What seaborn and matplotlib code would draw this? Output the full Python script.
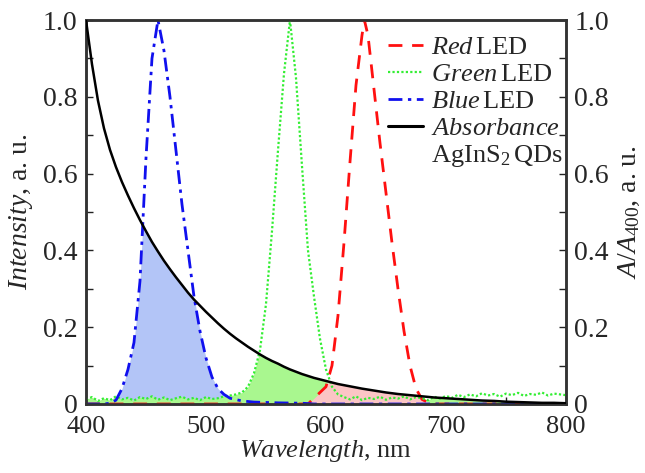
import numpy as np
import pandas as pd
import matplotlib
matplotlib.use('Agg')
import matplotlib.pyplot as plt
import seaborn as sns
from matplotlib.lines import Line2D
from matplotlib.patches import Polygon
from matplotlib.ticker import MultipleLocator

# Blue LED emission
blue_wl = [400, 415, 420, 425, 430, 435, 440, 445, 450, 455, 460, 465, 470, 475, 480,
           485, 490, 495, 500, 505, 510, 515, 520, 530, 540, 560, 580, 590, 800]
blue_int = [0, 0, 0.002, 0.01, 0.04, 0.09, 0.16, 0.32, 0.64, 0.90, 1.00, 0.92, 0.80, 0.66, 0.52,
            0.40, 0.28, 0.19, 0.12, 0.07, 0.04, 0.025, 0.015, 0.008, 0.005, 0.003, 0.002, 0, 0]

# Green LED emission (with noisy baseline)
green_wl = list(range(400, 805, 5))
green_int = [0.012, 0.018, 0.008, 0.015, 0.010, 0.020, 0.012, 0.016, 0.009, 0.018,
             0.013, 0.020, 0.011, 0.017, 0.010, 0.015, 0.019, 0.012, 0.016, 0.010,
             0.018, 0.013, 0.015, 0.020, 0.022, 0.025, 0.030, 0.045, 0.080, 0.140,
             0.260, 0.450, 0.660, 0.860, 1.000, 0.850, 0.620, 0.400, 0.280, 0.170,
             0.090, 0.045, 0.025, 0.018, 0.012, 0.020, 0.010, 0.016, 0.013, 0.019,
             0.011, 0.017, 0.014, 0.020, 0.012, 0.018, 0.015, 0.010, 0.019, 0.014,
             0.021, 0.016, 0.024, 0.018, 0.025, 0.020, 0.028, 0.022, 0.026, 0.019,
             0.027, 0.023, 0.029, 0.021, 0.026, 0.024, 0.030, 0.022, 0.027, 0.025,
             0.023]

# Red LED emission
red_wl = [400, 580, 585, 590, 595, 600, 605, 610, 615, 620, 625, 630, 632, 635, 640,
          645, 650, 655, 660, 665, 670, 675, 680, 685, 690, 800]
red_int = [0, 0, 0.0, 0.015, 0.03, 0.045, 0.10, 0.23, 0.42, 0.63, 0.83, 0.96, 1.0, 0.96, 0.82,
           0.68, 0.55, 0.42, 0.30, 0.19, 0.10, 0.04, 0.012, 0.004, 0, 0]

# Absorbance of AgInS2 QDs, normalized at 400 nm
abs_wl = list(range(400, 600, 5)) + list(range(600, 810, 10))
abs_val = [1.000, 0.885, 0.790, 0.718, 0.662, 0.617, 0.578, 0.543, 0.510, 0.479,
           0.450, 0.422, 0.397, 0.373, 0.351, 0.330, 0.310, 0.290, 0.272, 0.256,
           0.240, 0.225, 0.210, 0.196, 0.183, 0.171, 0.160, 0.149, 0.139, 0.129,
           0.120, 0.112, 0.105, 0.097, 0.090, 0.084, 0.078, 0.073, 0.068, 0.064,
           0.060, 0.052, 0.046, 0.040, 0.035, 0.030, 0.026, 0.023, 0.020, 0.017,
           0.015, 0.013, 0.011, 0.009, 0.008, 0.006, 0.005, 0.004, 0.003, 0.003,
           0.002]

sns.set_theme(style='ticks')
plt.rcParams['font.family'] = ['Liberation Serif', 'DejaVu Serif']
plt.rcParams['mathtext.fontset'] = 'custom'
plt.rcParams['mathtext.rm'] = 'Liberation Serif'
plt.rcParams['mathtext.it'] = 'Liberation Serif:italic'
plt.rcParams['mathtext.bf'] = 'Liberation Serif:bold'

fs = 20
fig = plt.figure(figsize=(6.45, 4.73), dpi=100)
ax = fig.add_axes([0.1333, 0.1459, 0.8775 - 0.1333, 0.9577 - 0.1459])
ax2 = ax.twinx()

# clip region: everything under the absorbance curve
clip = Polygon(list(zip(abs_wl, abs_val)) + [(800, 0), (400, 0)], closed=True,
               transform=ax.transData)

for wl, val, fc in [(blue_wl, blue_int, '#b3c5f7'),
                    (green_wl, green_int, '#a9f78f'),
                    (red_wl, red_int, '#fbc5c5')]:
    f = ax.fill_between(wl, 0, val, color=fc, linewidth=0, zorder=1)
    f.set_clip_path(clip)

sns.lineplot(x=red_wl, y=red_int, ax=ax, color='#ff1010', linestyle=(0, (5, 3.5)),
             linewidth=2.0, zorder=3)
sns.lineplot(x=green_wl, y=green_int, ax=ax, color='#33ee33', linestyle=(0, (1, 1)),
             linewidth=1.6, zorder=3)
sns.lineplot(x=blue_wl, y=blue_int, ax=ax, color='#1010ee', linestyle=(0, (5, 2, 1.2, 2)),
             linewidth=2.0, zorder=3)
sns.lineplot(x=abs_wl, y=abs_val, ax=ax2, color='black', linewidth=1.8, zorder=4)

ticklabels = ['0', '0.2', '0.4', '0.6', '0.8', '1.0']
for a in (ax, ax2):
    a.set_xlim(400, 800)
    a.set_ylim(0, 1.0)
    a.set_yticks([0, 0.2, 0.4, 0.6, 0.8, 1.0])
    a.set_yticklabels(ticklabels)
    a.yaxis.set_minor_locator(MultipleLocator(0.1))
    a.tick_params(which='both', direction='in', length=5, width=1.0, labelsize=fs,
                  color='#222222', pad=6)
    for s in a.spines.values():
        s.set_linewidth(1.8)
        s.set_color('#333333')
ax.xaxis.set_minor_locator(MultipleLocator(50))
ax.set_xticks([400, 500, 600, 700, 800])
ax.tick_params(axis='x', which='both', top=False, pad=9, labelsize=19)
ax2.tick_params(axis='y', which='both', left=False, right=True)
ax.tick_params(axis='y', which='both', right=False)

ax.set_xlabel(r'$\mathit{Wavelength}$, nm', fontsize=19, labelpad=0)
ax.set_ylabel(r'$\mathit{Intensity}$, a. u.', fontsize=fs, labelpad=6)
ax2.set_ylabel(r'$\mathit{A}/\mathit{A}_{400}$, a. u.', fontsize=fs, labelpad=6)

handles = [Line2D([], [], color='#ff1010', linestyle=(0, (5, 3.5)), linewidth=2.0),
           Line2D([], [], color='#33ee33', linestyle=(0, (1, 1)), linewidth=1.6),
           Line2D([], [], color='#1010ee', linestyle=(0, (5, 2, 1.2, 2)), linewidth=2.0),
           Line2D([], [], color='black', linewidth=2.2),
           Line2D([], [], color='none')]
labels = [r'$\mathit{Red}\/$LED', r'$\mathit{Green}\/$LED', r'$\mathit{Blue}\/$LED',
          r'$\mathit{Absorbance}$', r'AgInS$_2\/$QDs']
ax2.legend(handles, labels, loc='upper right', bbox_to_anchor=(1.025, 1.0), frameon=False,
           fontsize=19, handlelength=1.3, handletextpad=0.3, labelspacing=0.13,
           borderaxespad=0.2)

fig.savefig('out.png', dpi=100)
